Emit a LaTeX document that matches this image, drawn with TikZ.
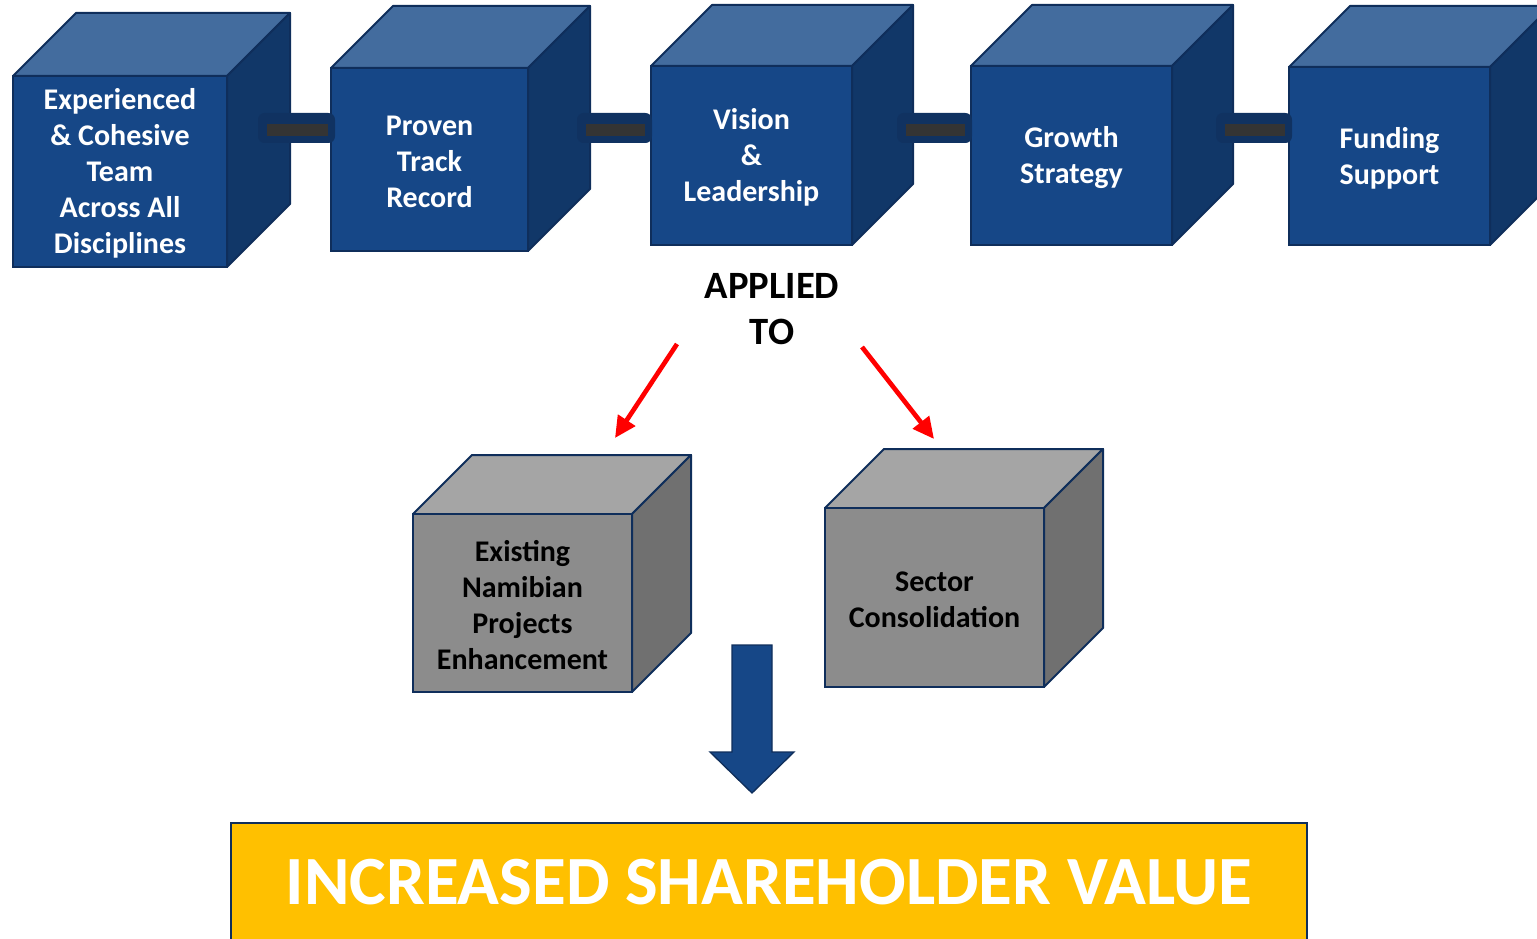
\documentclass[tikz,border=0pt]{standalone}
\usepackage{fontspec}
\setmainfont{Carlito}
\usetikzlibrary{arrows.meta}
\definecolor{bfront}{RGB}{22,71,135}
\definecolor{btop}{RGB}{67,108,158}
\definecolor{bside}{RGB}{17,55,104}
\definecolor{bline}{RGB}{15,46,91}
\definecolor{gfront}{RGB}{140,140,140}
\definecolor{gtop}{RGB}{165,165,165}
\definecolor{gside}{RGB}{112,112,112}
\definecolor{pipeblue}{RGB}{16,50,97}
\definecolor{pipegray}{RGB}{52,52,52}
\definecolor{gold}{RGB}{255,192,0}
\tikzset{
  bluefront/.style={fill=bfront,draw=bline,line width=1.5pt},
  bluetop/.style={fill=btop,draw=bline,line width=1.5pt,line join=round},
  blueside/.style={fill=bside,draw=bline,line width=1.5pt,line join=round},
  bluetext/.style={text=white,font=\fontsize{22.5}{27}\selectfont\bfseries,align=center,inner sep=0pt},
  grayfront/.style={fill=gfront,draw=bline,line width=1.5pt},
  graytop/.style={fill=gtop,draw=bline,line width=1.5pt,line join=round},
  grayside/.style={fill=gside,draw=bline,line width=1.5pt,line join=round},
  graytext/.style={text=black,font=\fontsize{22.5}{27}\selectfont\bfseries,align=center,inner sep=0pt},
  pipeouter/.style={fill=pipeblue,draw=none,rounded corners=5pt},
  pipeinner/.style={fill=pipegray,draw=none},
  redarrow/.style={draw=red,line width=3.5pt,-{Triangle[length=16pt,width=15pt]}},
  blockarrow/.style={fill=bfront,draw=bline,line width=1pt,line join=miter},
  valuebox/.style={fill=gold,draw=bline,line width=1.2pt},
}
% #1 name, #2 left, #3 top, #4 right, #5 bottom, #6 depth, #7 prefix, #8 text
\newcommand\mycube[8]{%
  \draw[#7top] ({#2},{#3}) -- ({#2+#6},{#3-#6}) -- ({#4+#6},{#3-#6}) -- ({#4},{#3}) -- cycle;
  \draw[#7side] ({#4},{#3}) -- ({#4+#6},{#3-#6}) -- ({#4+#6},{#5-#6}) -- ({#4},{#5}) -- cycle;
  \draw[#7front] ({#2},{#3}) rectangle ({#4},{#5});
  \node[#7text] (#1) at ({(#2+#4)/2},{(#3+#5)/2+2}) {#8};%
}
\newcommand\mypipe[2]{%
  \fill[pipeouter] ({#1},113) rectangle ({#2},143);
  \fill[pipeinner] ({#1+9},124) rectangle ({#2-7},136);%
}
\begin{document}
\begin{tikzpicture}[x=0.75pt,y=-0.75pt]
\useasboundingbox (0,0) rectangle (1537,938);
\clip (0,0) rectangle (1537,938);
% top row cubes
\mycube{c1}{13}{76}{227}{267}{63}{blue}{Experienced\\\& Cohesive\\Team\\Across All\\Disciplines}
\mycube{c2}{331}{68}{528}{251}{62}{blue}{Proven\\Track\\Record}
\mycube{c3}{651}{66}{852}{245}{61}{blue}{Vision\\\&\\Leadership}
\mycube{c4}{971}{66}{1172}{245}{61}{blue}{Growth\\Strategy}
\mycube{c5}{1289}{67}{1490}{245}{61}{blue}{Funding\\Support}
% pipes
\mypipe{258}{335}
\mypipe{577}{652}
\mypipe{897}{972}
\mypipe{1216}{1292}
% applied to
\node[font=\fontsize{29}{35}\selectfont\bfseries,align=center,inner sep=0pt] (applied) at (772,309) {APPLIED\\TO};
% gray cubes
\mycube{g1}{413}{514}{632}{692}{59}{gray}{Existing\\Namibian\\Projects\\Enhancement}
\mycube{g2}{825}{508}{1044}{687}{59}{gray}{Sector\\Consolidation}
% red arrows
\coordinate (r1s) at (677,344);
\coordinate (r1e) at (615,438);
\coordinate (r2s) at (862,347);
\coordinate (r2e) at (934,439);
\draw[redarrow] (r1s) -- (r1e);
\draw[redarrow] (r2s) -- (r2e);
% block arrow
\draw[blockarrow] (732,645) -- (772,645) -- (772,752) -- (794,752) -- (752,793) -- (710,752) -- (732,752) -- cycle;
% value box
\draw[valuebox] (231,823) rectangle (1307,960);
\node[text=white,font=\fontsize{51.8}{60}\selectfont\bfseries,inner sep=0pt] (value) at (769,882) {INCREASED SHAREHOLDER VALUE};
\end{tikzpicture}
\end{document}
